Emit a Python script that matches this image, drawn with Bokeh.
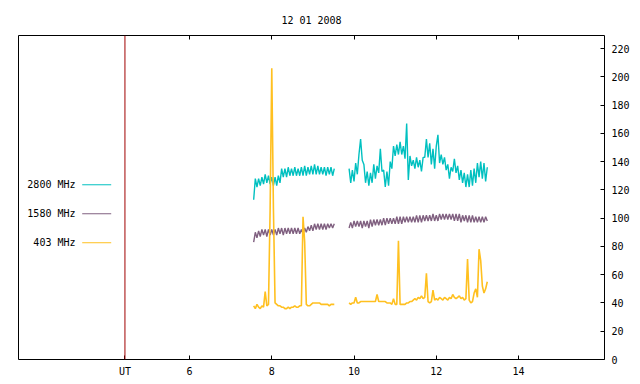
import numpy as np
from bokeh.plotting import figure
from bokeh.models import LinearAxis, FixedTicker, Span, Label, Range1d
from bokeh.embed import file_html
from bokeh.resources import INLINE

# ---------------- data ----------------
title_text = "12 01 2008"
series_names = ["2800 MHz", "1580 MHz", "403 MHz"]
x_ticks = [6, 8, 10, 12, 14]
ut_hour = 4.43
y_ticks = list(range(0, 221, 20))

# sampling times (UT hours) of the two observing blocks
block1_start, block1_end, block1_n = 7.56, 9.52, 50
block2_start, block2_end, block2_n = 9.88, 13.24, 85

f2800_a = [113, 128, 122, 128, 123, 129, 124, 131, 125, 130,
           124, 129, 123, 129, 123, 130, 125, 135, 129, 135,
           129, 136, 130, 135, 130, 136, 130, 135, 130, 136,
           130, 137, 130, 136, 131, 137, 131, 138, 131, 137,
           131, 136, 131, 136, 130, 136, 131, 136, 130, 135]
f2800_b = [135, 125, 134, 126, 139, 131, 145, 156, 141, 138,
           125, 133, 123, 132, 125, 138, 128, 137, 132, 149,
           133, 134, 122, 133, 123, 140, 135, 151, 144, 152,
           145, 154, 145, 151, 142, 167, 127, 144, 137, 141,
           135, 143, 136, 141, 133, 143, 143, 156, 143, 153,
           138, 149, 135, 151, 159, 139, 145, 138, 143, 134,
           138, 128, 136, 133, 142, 132, 137, 127, 134, 125,
           132, 122, 131, 122, 134, 123, 135, 125, 139, 129,
           140, 128, 139, 126, 136]

f1580_a = [83, 90, 86, 91, 87, 92, 88, 92, 87, 92,
           88, 92, 88, 92, 88, 93, 89, 93, 88, 93,
           89, 93, 89, 93, 89, 93, 89, 93, 89, 92,
           89, 93, 90, 94, 91, 95, 91, 96, 92, 96,
           92, 96, 92, 96, 92, 96, 93, 96, 93, 96]
f1580_b = [93, 97, 93, 98, 94, 98, 94, 98, 93,
           98, 94, 98, 93, 99, 94, 99, 95, 99,
           95, 99, 95, 100, 95, 100, 96, 100, 96,
           100, 96, 101, 96, 101, 96, 101, 97, 101,
           97, 101, 97, 101, 97, 102, 97, 102, 97,
           102, 98, 102, 98, 102, 98, 103, 98, 102,
           98, 103, 99, 103, 99, 103, 99, 103, 99,
           103, 98, 103, 98, 103, 97, 102, 98, 102,
           97, 102, 97, 102, 97, 101, 97, 101, 97,
           101, 97, 101, 98]

f403_a = [38, 36, 39, 37, 36, 38, 37, 48, 38, 39,
          106, 206, 107, 40, 39, 38, 38, 37, 37, 36,
          36, 37, 36, 37, 37, 38, 37, 37, 38, 38,
          101, 83, 39, 38, 38, 39, 40, 40, 40, 40,
          40, 39, 39, 39, 39, 39, 38, 39, 39, 39]
f403_b = [40, 39, 40, 40, 44, 40, 40, 41, 41, 41,
          41, 41, 41, 41, 41, 41, 41, 46, 41, 41,
          41, 41, 41, 40, 40, 40, 39, 43, 39, 39,
          84, 39, 39, 39, 39, 40, 40, 41, 41, 42,
          43, 42, 44, 43, 45, 43, 44, 61, 41, 40,
          41, 49, 42, 43, 42, 44, 43, 42, 44, 43,
          42, 44, 43, 46, 44, 43, 44, 45, 43, 44,
          42, 43, 71, 42, 40, 41, 47, 50, 44, 78,
          70, 52, 47, 50, 55]

# ---------------- style ----------------
FONT = "DejaVu Sans Mono"
FS = "10px"
colors = ["#00c0c0", "#806080", "#ffc020"]
widths = [1.4, 1.4, 1.6]
ut_color = "#a00000"

t1 = np.linspace(block1_start, block1_end, block1_n)
t2 = np.linspace(block2_start, block2_end, block2_n)

p = figure(width=640, height=382, output_backend="svg", toolbar_location=None,
           x_range=Range1d(1.842, 16.09), y_range=Range1d(0, 229.2),
           x_axis_location=None, y_axis_location=None,
           min_border_left=18, min_border_right=36,
           min_border_top=35, min_border_bottom=23)
p.grid.visible = False
p.outline_line_color = "black"
p.outline_line_width = 1
p.background_fill_color = "white"
p.border_fill_color = "white"

p.title.text = title_text
p.title.align = "center"
p.title.text_font = FONT
p.title.text_font_size = FS
p.title.text_font_style = "normal"
p.title.text_color = "black"
p.title.standoff = 19

def style_axis(ax, ticks, show_labels=True):
    ax.ticker = FixedTicker(ticks=ticks)
    ax.axis_line_color = None
    ax.major_tick_in = 4
    ax.major_tick_out = 0
    ax.minor_tick_line_color = None
    ax.major_tick_line_color = "black"
    ax.major_label_text_font = FONT
    if show_labels:
        ax.major_label_text_font_size = FS
        ax.major_label_text_color = "black"
        ax.major_label_standoff = 6
    else:
        ax.major_label_text_font_size = "1px"
        ax.major_label_text_color = None
        ax.major_label_standoff = 0

bottom = LinearAxis()
style_axis(bottom, [ut_hour] + x_ticks)
bottom.major_label_overrides = {ut_hour: "UT"}
bottom.major_label_standoff = 6
p.add_layout(bottom, "below")

top = LinearAxis()
style_axis(top, x_ticks, show_labels=False)
p.add_layout(top, "above")

right = LinearAxis()
style_axis(right, y_ticks)
right.major_label_standoff = 7
p.add_layout(right, "right")

# data lines
for a, b, c, w in [(f2800_a, f2800_b, colors[0], widths[0]),
                   (f1580_a, f1580_b, colors[1], widths[1]),
                   (f403_a, f403_b, colors[2], widths[2])]:
    p.line(t1, a, line_color=c, line_width=w)
    p.line(t2, b, line_color=c, line_width=w)

p.add_layout(Span(location=ut_hour, dimension="height", line_color=ut_color,
                  line_width=1))

# legend (labels left of line samples, gnuplot style)
leg_y = [123.6, 103.1, 82.6]
for name, c, yy in zip(series_names, colors, leg_y):
    p.add_layout(Label(x=3.228, y=yy, text=name, text_align="right",
                       text_baseline="middle", text_font=FONT,
                       text_font_size=FS, text_color="black"))
    p.segment(x0=[3.391], y0=[yy], x1=[4.096], y1=[yy], line_color=c,
              line_width=1)

open("out.html", "w").write(file_html(p, INLINE))
